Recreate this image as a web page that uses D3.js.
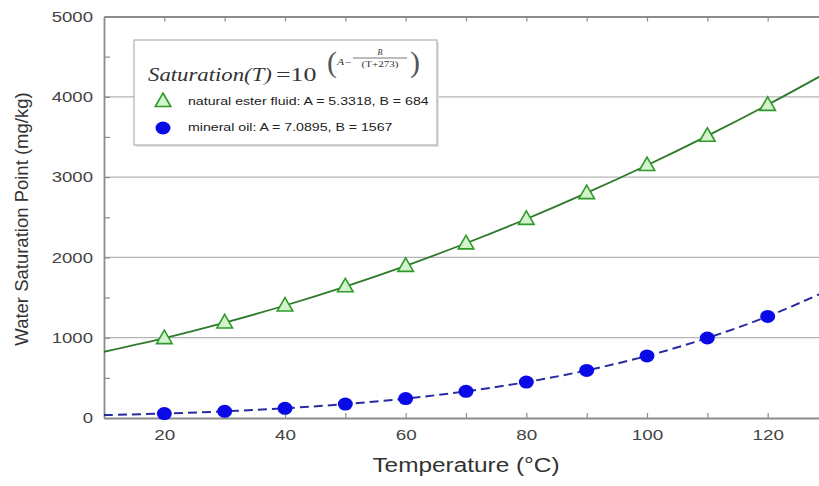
<!DOCTYPE html>
<html>
<head>
<meta charset="utf-8">
<script src="https://cdn.jsdelivr.net/npm/d3@7"></script>
<style>
	body { margin: 0; background: #fff; }
	svg { display: block; font-family: "Liberation Sans", Arial, sans-serif; }
</style>
</head>
<body>
<svg id="chart" width="819" height="486"></svg>
<script>
// measured temperatures (°C) and saturation values (mg/kg)
const temps = [20, 30, 40, 50, 60, 70, 80, 90, 100, 110, 120];
const esterValues = [995, 1190, 1400, 1640, 1895, 2175, 2480, 2800, 3150, 3515, 3900];
const mineralValues = [55, 83, 121, 173, 242, 332, 447, 593, 773, 996, 1265];

// fitted curves
const fitTemps = [10, 20, 30, 40, 50, 60, 70, 80, 90, 100, 110, 120, 130];
const esterFit = [825, 994, 1187, 1401, 1637, 1895, 2176, 2478, 2803, 3148, 3514, 3901, 4310];
const mineralFit = [36, 55, 83, 121, 173, 242, 332, 447, 593, 773, 996, 1265, 1589];

const xTicks = [20, 30, 40, 50, 60, 70, 80, 90, 100, 110, 120];
const yTicks = [0, 500, 1000, 1500, 2000, 2500, 3000, 3500, 4000, 4500, 5000];
const yGrid = [1000, 2000, 3000, 4000];

const legendLabels = [
	"natural ester fluid: A = 5.3318, B = 684",
	"mineral oil: A = 7.0895, B = 1567"
];

const svg = d3.select("svg#chart");
const bounds = { minX: 104, maxX: 828, minY: 16.5, maxY: 418 };
// the source picture is stretched sideways, so text is widened to match
const STRETCH = 1.25;

function stretch(sel, k = STRETCH) {
	sel.each(function() {
		let len = this.getComputedTextLength();
		if (len > 0) {
			d3.select(this)
				.attr("textLength", len * k)
				.attr("lengthAdjust", "spacingAndGlyphs");
		}
	});
}

const scaleX = d3.scaleLinear().domain([10, 130]).range([bounds.minX, bounds.maxX]);
const scaleY = d3.scaleLinear().domain([0, 5000]).range([bounds.maxY, bounds.minY]);

svg.append("defs").append("clipPath").attr("id", "plot-clip")
	.append("rect")
	.attr("x", bounds.minX).attr("y", bounds.minY)
	.attr("width", bounds.maxX - bounds.minX).attr("height", bounds.maxY - bounds.minY);

// grid lines
svg.append("g").attr("id", "grid")
	.selectAll("line")
	.data(yGrid)
	.join("line")
	.attr("x1", bounds.minX).attr("x2", bounds.maxX)
	.attr("y1", d => scaleY(d)).attr("y2", d => scaleY(d))
	.attr("stroke", "#b4b4b4")
	.attr("stroke-width", 1.2);

// axes (ticks inward)
const axisColor = "#8c8c8c";
function styleAxis(g) {
	g.select(".domain").attr("stroke", axisColor).attr("stroke-width", 1.8);
	g.selectAll(".tick line").attr("stroke", axisColor).attr("stroke-width", 1.2);
	g.selectAll(".tick text").attr("fill", "#444").style("font-size", "14.5px");
}

svg.append("g").attr("id", "x-axis")
	.attr("transform", `translate(0 ${bounds.maxY})`)
	.call(d3.axisBottom(scaleX).tickValues(xTicks).tickSizeInner(-5).tickSizeOuter(0)
		.tickPadding(12).tickFormat(d => d % 20 === 0 ? d : ""))
	.call(styleAxis)
	.call(g => g.selectAll(".tick text").call(stretch, 1.3));

svg.append("g").attr("id", "x-axis-top")
	.attr("transform", `translate(0 ${bounds.minY})`)
	.call(d3.axisTop(scaleX).tickValues(xTicks).tickSizeInner(-5).tickSizeOuter(0).tickFormat(""))
	.call(styleAxis);

svg.append("g").attr("id", "y-axis")
	.attr("transform", `translate(${bounds.minX} 0)`)
	.call(d3.axisLeft(scaleY).tickValues(yTicks).tickSizeInner(-6).tickSizeOuter(0)
		.tickPadding(11).tickFormat(d => d % 1000 === 0 ? d : ""))
	.call(styleAxis)
	.call(g => g.selectAll(".tick text").call(stretch, 1.28));

// fitted lines
const line = d3.line()
	.x(d => scaleX(d[0]))
	.y(d => scaleY(d[1]))
	.curve(d3.curveCatmullRom);

const lines = svg.append("g").attr("id", "lines").attr("clip-path", "url(#plot-clip)");
lines.append("path")
	.attr("d", line(d3.zip(fitTemps, esterFit)))
	.attr("fill", "none")
	.attr("stroke", "#2f7a2a")
	.attr("stroke-width", 1.8);
lines.append("path")
	.attr("d", line(d3.zip(fitTemps, mineralFit)))
	.attr("fill", "none")
	.attr("stroke", "#2a2aa0")
	.attr("stroke-width", 2)
	.attr("stroke-dasharray", "9 5");

// markers
const triangle = d3.symbol().type(d3.symbolTriangle).size(105);
svg.append("g").attr("id", "ester-points")
	.selectAll("path")
	.data(d3.zip(temps, esterValues))
	.join("path")
	.attr("transform", d => `translate(${scaleX(d[0])} ${scaleY(d[1]) + 1})`)
	.attr("d", triangle)
	.attr("fill", "#d4f2cc")
	.attr("stroke", "#2e9a2a")
	.attr("stroke-width", 1.6);

svg.append("g").attr("id", "mineral-points")
	.selectAll("ellipse")
	.data(d3.zip(temps, mineralValues))
	.join("ellipse")
	.attr("cx", d => scaleX(d[0]))
	.attr("cy", d => scaleY(d[1]))
	.attr("rx", 7.5).attr("ry", 6.5)
	.attr("fill", "#0a0ae6");

// legend
const legend = svg.append("g").attr("id", "legend").attr("transform", "translate(134 40)");
legend.append("rect")
	.attr("x", 2).attr("y", 2).attr("width", 303).attr("height", 105)
	.attr("fill", "#e4e4e4");
legend.append("rect")
	.attr("width", 303).attr("height", 105)
	.attr("fill", "#fff")
	.attr("stroke", "#b0b0b0")
	.attr("stroke-width", 1.2);

// formula, origin at the baseline of "Saturation(T)"
const formula = legend.append("g").attr("transform", "translate(14 41)")
	.style("font-family", "'Liberation Serif', 'Times New Roman', serif")
	.attr("fill", "#333");
formula.append("text")
	.attr("x", 0).attr("y", 0)
	.style("font-size", "18.5px").style("font-style", "italic")
	.text("Saturation(T)")
	.call(stretch, 1.23);
formula.append("text")
	.attr("x", 128).attr("y", 0)
	.style("font-size", "18.5px")
	.text("=10")
	.call(stretch, 1.4);
formula.append("text")
	.attr("x", 179).attr("y", -9)
	.style("font-size", "30px")
	.attr("fill", "#555")
	.text("(");
formula.append("text")
	.attr("x", 189).attr("y", -16)
	.style("font-size", "9px").style("font-style", "italic")
	.text("A−")
	.call(stretch, 1.3);
formula.append("text")
	.attr("x", 232).attr("y", -26)
	.attr("text-anchor", "middle")
	.style("font-size", "8px").style("font-style", "italic")
	.text("B");
formula.append("line")
	.attr("x1", 205).attr("x2", 259)
	.attr("y1", -23).attr("y2", -23)
	.attr("stroke", "#555").attr("stroke-width", 0.8);
formula.append("text")
	.attr("x", 232).attr("y", -14)
	.attr("text-anchor", "middle")
	.style("font-size", "8.5px")
	.text("(T+273)")
	.call(stretch, 1.3);
formula.append("text")
	.attr("x", 262).attr("y", -9)
	.style("font-size", "30px")
	.attr("fill", "#555")
	.text(")");

const items = legend.append("g").attr("transform", "translate(0 61)");
items.append("path")
	.attr("transform", "translate(29 1)")
	.attr("d", triangle)
	.attr("fill", "#d4f2cc")
	.attr("stroke", "#2e9a2a")
	.attr("stroke-width", 1.6);
items.append("ellipse")
	.attr("cx", 29).attr("cy", 27)
	.attr("rx", 7.5).attr("ry", 6.5)
	.attr("fill", "#0a0ae6");
items.selectAll("text")
	.data(legendLabels)
	.join("text")
	.attr("x", 54)
	.attr("y", (d, i) => 4 + i * 26)
	.attr("fill", "#222")
	.style("font-size", "11.5px")
	.text(d => d)
	.call(stretch, 1.23);

// axis titles
svg.append("text")
	.attr("x", 466).attr("y", 472)
	.attr("text-anchor", "middle")
	.attr("fill", "#333")
	.style("font-size", "19.5px")
	.text("Temperature (°C)")
	.call(stretch, 1.25);

svg.append("text")
	.attr("transform", "translate(28 219) rotate(-90)")
	.attr("text-anchor", "middle")
	.attr("fill", "#333")
	.style("font-size", "18.5px")
	.text("Water Saturation Point (mg/kg)");
</script>
</body>
</html>
